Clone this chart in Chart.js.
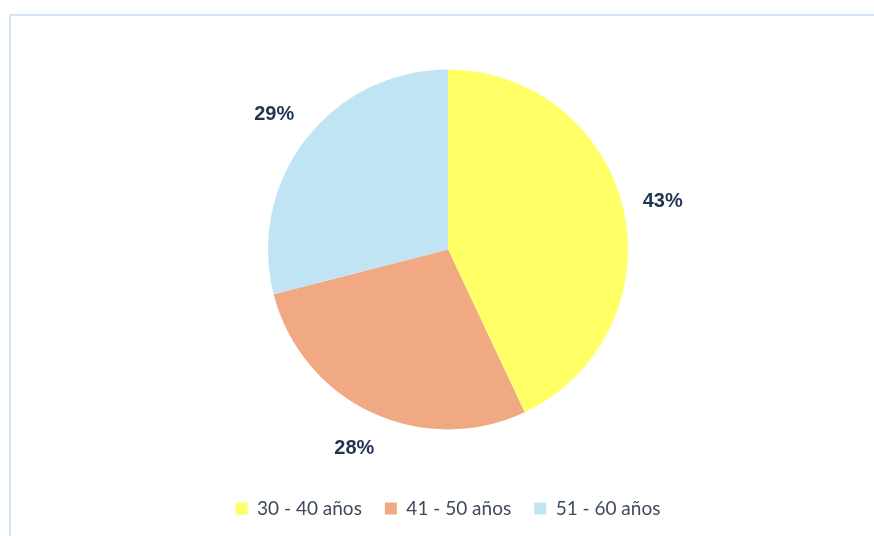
<!DOCTYPE html>
<html>
<head>
<meta charset="utf-8">
<script src="https://cdn.jsdelivr.net/npm/chart.js@4/dist/chart.umd.min.js"></script>
<style>
  html, body { margin: 0; padding: 0; background: #fff; overflow: hidden; }
  .frame {
    position: absolute; left: 9px; top: 14px; width: 900px; height: 560px;
    border-top: 2px solid #d3e4f7; border-left: 2px solid #d3e4f7;
  }
  .wrap { position: absolute; left: 0; top: 0; width: 874px; height: 536px; }
</style>
</head>
<body>
<div class="frame"></div>
<div class="wrap"><canvas id="chart"></canvas></div>
<script>
const labels = ['30 - 40 años', '41 - 50 años', '51 - 60 años']
const values = [43, 28, 29]
const colors = ['#ffff66', '#f1a983', '#c1e4f5']

// porcentajes fuera del pastel
const outsideLabels = {
  id: 'outsideLabels',
  afterDatasetsDraw(chart) {
    const ctx = chart.ctx
    const meta = chart.getDatasetMeta(0)
    ctx.save()
    ctx.font = 'bold 20px "Liberation Sans", Arial, sans-serif'
    ctx.fillStyle = '#1f3552'
    ctx.textAlign = 'center'
    ctx.textBaseline = 'middle'
    meta.data.forEach((arc, i) => {
      const mid = (arc.startAngle + arc.endAngle) / 2
      const r = arc.outerRadius + 40
      ctx.fillText(values[i] + '%', arc.x + Math.cos(mid) * r, arc.y + Math.sin(mid) * r)
    })
    ctx.restore()
  }
}

new Chart(document.getElementById('chart'), {
  type: 'pie',
  data: {
    labels: labels,
    datasets: [{
      data: values,
      backgroundColor: colors,
      borderWidth: 0
    }]
  },
  options: {
    responsive: true,
    maintainAspectRatio: false,
    animation: false,
    radius: 180,
    layout: {
      padding: { left: 22, right: 0, top: 23, bottom: 8 }
    },
    plugins: {
      tooltip: { enabled: false },
      legend: {
        position: 'bottom',
        labels: {
          boxWidth: 12,
          boxHeight: 12,
          padding: 23,
          color: '#3e4a5a',
          font: { family: 'Lato', size: 19 }
        }
      }
    }
  },
  plugins: [outsideLabels]
})
</script>
</body>
</html>
